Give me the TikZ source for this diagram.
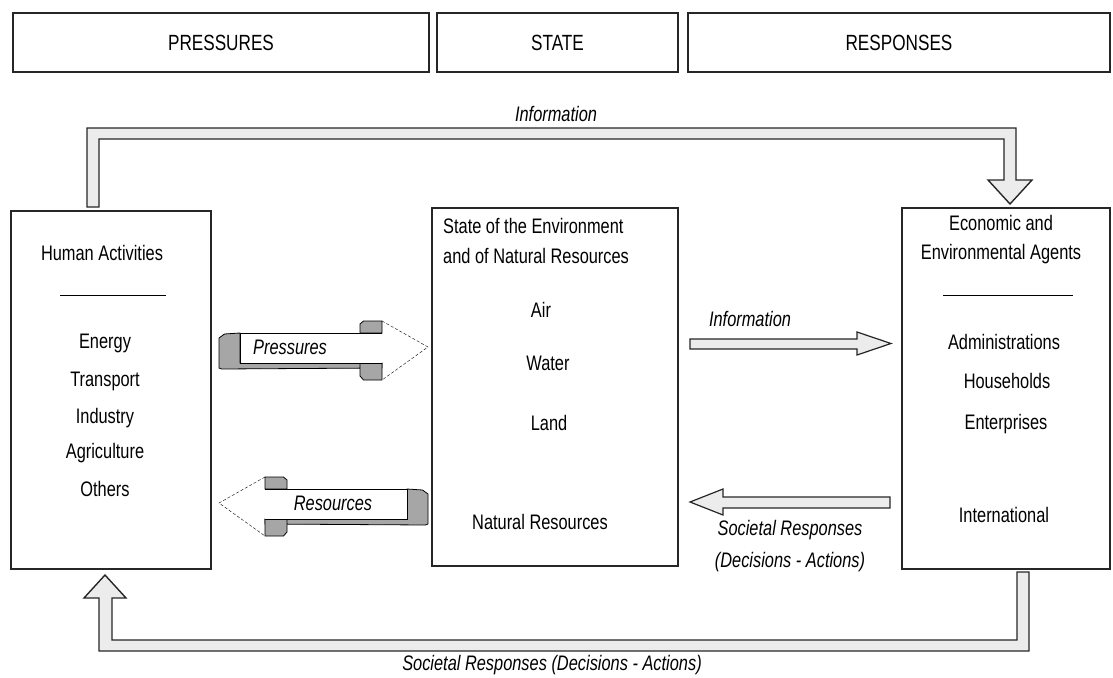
\documentclass[tikz,border=0pt]{standalone}
\usepackage{fontspec}
\setmainfont[FakeStretch=0.78]{Liberation Sans}
\usetikzlibrary{calc}
\tikzstyle{panel}=[draw=black!85, line width=1.6pt, inner sep=0pt]
\tikzstyle{headbox}=[draw=black!85, line width=2pt, inner sep=0pt, font=\fontsize{22}{26}\selectfont]
\tikzstyle{band}=[draw=black!85, line width=1.4pt, fill=gray!15, line join=miter]
\tikzstyle{shadethree}=[draw=black, line width=0.8pt, fill=gray!70, line join=miter]
\tikzstyle{lbl}=[font=\fontsize{21}{24}\selectfont, inner sep=0pt]
\tikzstyle{itlbl}=[font=\fontsize{21}{24}\selectfont\itshape, inner sep=0pt]
\newcommand{\bulkArrow}[2]{
	\begin{scope}[shift={#1},#2]
		\fill[white] (58.5,-27) -- (104.5,-1) -- (58.5,32) -- cycle;
		\draw[densely dashed, thin] (58.5,-27) -- (104.5,-1) -- (58.5,32);
		\draw[shadethree] (-104.5,-10) -- (-99,-14) -- (-83.5,-15) -- (-83.5,15) -- (58.5,15) -- (58.5,20) -- (-102,21) -- (-104.5,20) -- cycle;
		\draw[shadethree] (36.5,-24) -- (40,-27) -- (58.5,-27) -- (58.5,-15) -- (36.5,-15) -- cycle;
		\draw[shadethree] (36.5,15) -- (58.5,15) -- (58.5,32) -- (40,32) -- (36.5,28) -- cycle;
		\fill[white] (-83.5,-15) rectangle (58.5,15);
		\draw[line width=1pt] (58.5,-15) -- (-83.5,-15) -- (-83.5,15) -- (58.5,15);
	\end{scope}
}
\begin{document}
\begin{tikzpicture}[x=1pt,y=-1pt]
	\useasboundingbox (0,0) rectangle (1113,677);
	% header row
	\node[headbox, minimum width=416pt, minimum height=59pt] (pres) at (221,42.5) {PRESSURES};
	\node[headbox, minimum width=241pt, minimum height=59pt] (stat) at (557.5,42.5) {STATE};
	\node[headbox, minimum width=422pt, minimum height=59pt] (resp) at (899,42.5) {RESPONSES};
	% feedback bands
	\draw[band] (87,207) -- (87,128) -- (1016,128) -- (1016,180) -- (1032,180) -- (1010,204) -- (988,180) -- (1004,180) -- (1004,139) -- (99,139) -- (99,207) -- cycle;
	\node[itlbl] (infotop) at (556,114) {Information};
	\draw[band] (1017,572) -- (1029,572) -- (1029,651) -- (99,651) -- (99,598) -- (84,598) -- (105,575) -- (126,598) -- (112,598) -- (112,640) -- (1017,640) -- cycle;
	\node[itlbl] (socbot) at (552,665) {Societal Responses (Decisions - Actions)};
	% main boxes
	\node[panel, minimum width=200pt, minimum height=358pt] (human) at (111,390) {};
	\node[panel, minimum width=246pt, minimum height=358pt] (envir) at (555,387) {};
	\node[panel, minimum width=208pt, minimum height=361pt] (agent) at (1006,388.5) {};
	% human activities
	\node[lbl] (humtitle) at (102,253) {Human Activities};
	\draw[line width=1pt] (60,295) -- (166,295);
	\foreach \txt/\y [count=\i] in {Energy/343,Transport/381,Industry/418,Agriculture/453,Others/489}
		\node[lbl] (act\i) at (105,\y) {\txt};
	% state of the environment
	\node[lbl, align=left, anchor=west, font=\fontsize{21}{30}\selectfont] (envtitle) at (443,241) {State of the Environment\\and of Natural Resources};
	\node[lbl] (air) at (541,310) {Air};
	\node[lbl] (water) at (548,363) {Water};
	\node[lbl] (land) at (549,423) {Land};
	\node[lbl] (natres) at (540,522) {Natural Resources};
	% agents
	\node[lbl, align=center, font=\fontsize{21}{29}\selectfont] (agtitle) at (1001,240) {Economic and\\Environmental Agents};
	\draw[line width=1pt] (943,295) -- (1073,295);
	\node[lbl] (admin) at (1004,342) {Administrations};
	\node[lbl] (house) at (1007,381) {Households};
	\node[lbl] (enter) at (1006,424) {Enterprises};
	\node[lbl] (intl) at (1004,515) {International};
	% middle arrows
	\bulkArrow{(323.5,348)}{}
	\node[itlbl] (presarr) at (290,347) {Pressures};
	\bulkArrow{(323.5,504)}{xscale=-1}
	\node[itlbl] (resarr) at (333,503) {Resources};
	\draw[band, line width=1.2pt] (690,339) -- (857,339) -- (857,332) -- (891,343.5) -- (857,355) -- (857,349) -- (690,349) -- cycle;
	\node[itlbl] (infomid) at (750,319) {Information};
	\draw[band, line width=1.2pt] (890,497) -- (723,497) -- (723,489) -- (690,502) -- (723,515) -- (723,508) -- (890,508) -- cycle;
	\node[itlbl, align=center, font=\fontsize{21}{32}\selectfont\itshape] (socmid) at (790,546) {Societal Responses\\(Decisions - Actions)};
\end{tikzpicture}
\end{document}
